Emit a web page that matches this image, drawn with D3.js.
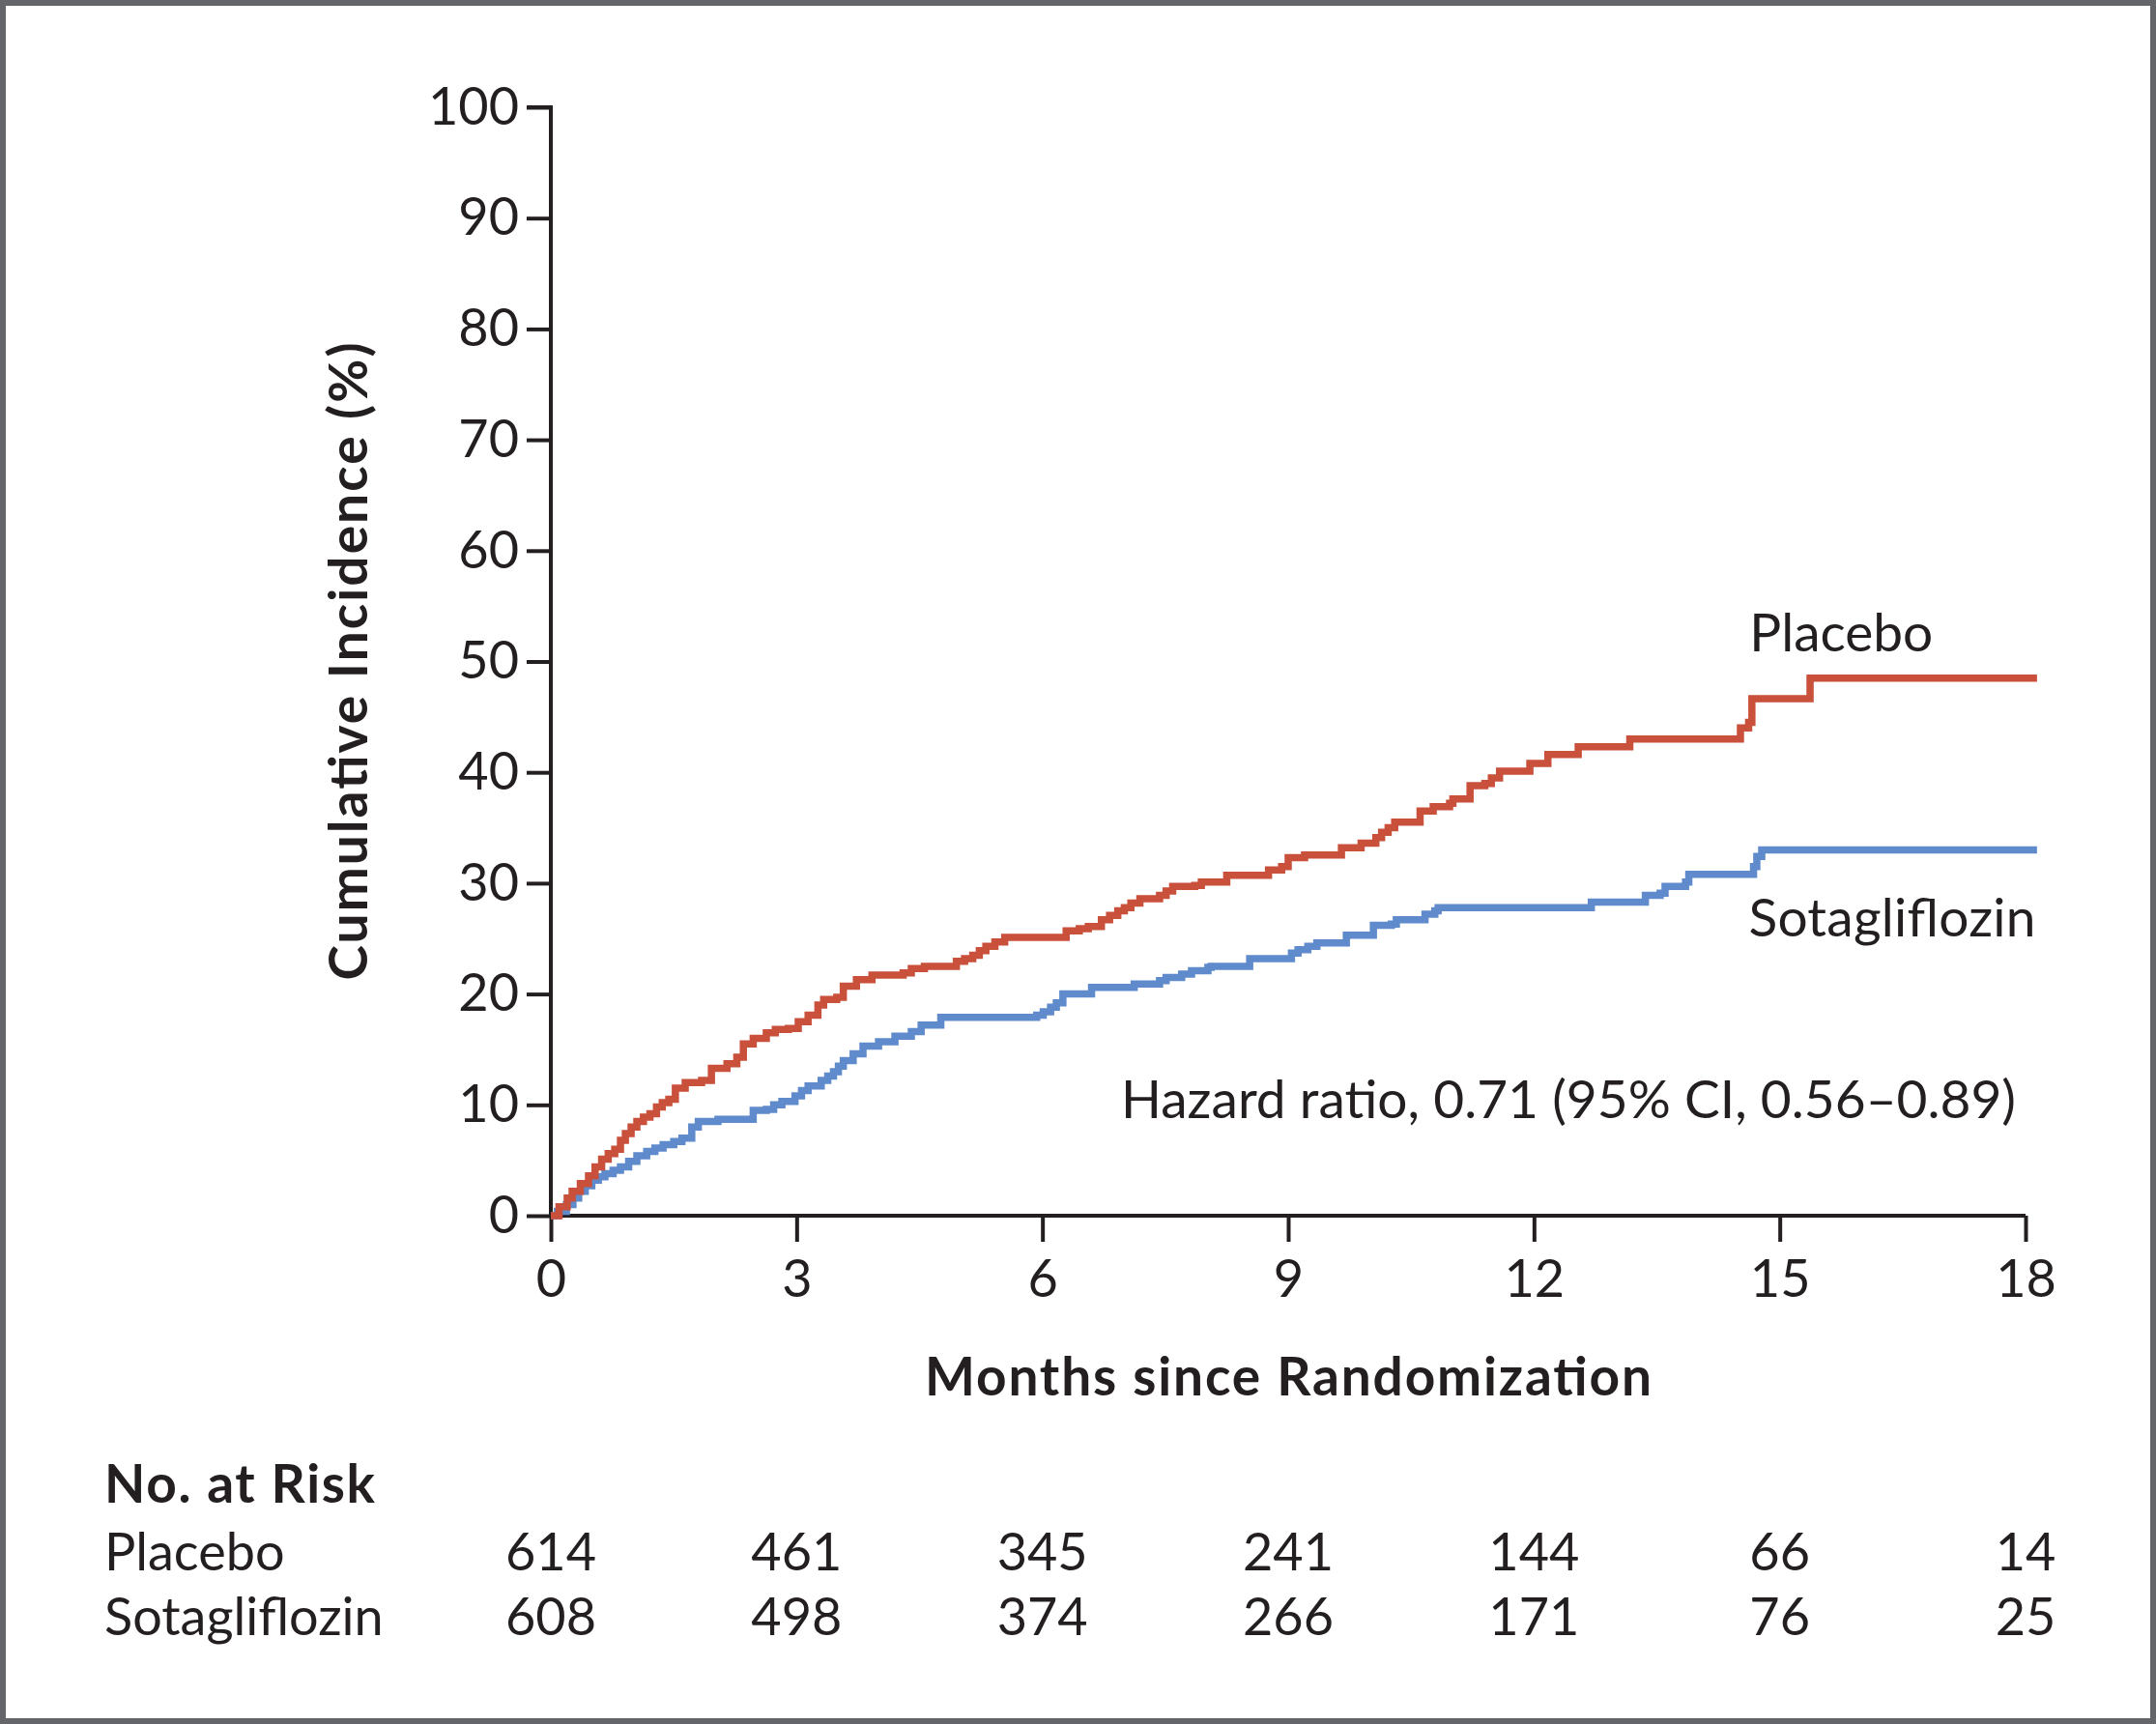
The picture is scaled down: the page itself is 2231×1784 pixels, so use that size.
<!DOCTYPE html>
<head>
  <meta charset="utf-8">
  <title>Cumulative Incidence - Sotagliflozin vs Placebo</title>
  <script src="https://cdn.jsdelivr.net/npm/d3@7"></script>
  <style>
    body { margin: 0; background: #fff; }
    text { font-family: Lato, "Open Sans", sans-serif; fill: #231f20; }
  </style>
</head>
<body>
  <div id="my_dataviz"></div>
  <script>

  // data (months, cumulative incidence %)
  var placeboMonths = [0, 0.1, 0.2, 0.26, 0.36, 0.46, 0.54, 0.62, 0.7, 0.78, 0.85, 0.91, 0.98, 1.05, 1.13, 1.21, 1.29, 1.36, 1.44, 1.52, 1.64, 1.84, 1.96, 2.15, 2.27, 2.35, 2.47, 2.63, 2.74, 2.9, 3.02, 3.14, 3.26, 3.33, 3.49, 3.57, 3.73, 3.92, 4.3, 4.4, 4.56, 4.95, 5.05, 5.15, 5.23, 5.31, 5.42, 5.54, 6.29, 6.45, 6.56, 6.72, 6.82, 6.92, 7.0, 7.08, 7.19, 7.43, 7.51, 7.59, 7.86, 7.94, 8.25, 8.76, 8.92, 9.0, 9.2, 9.65, 9.89, 10.07, 10.14, 10.22, 10.3, 10.61, 10.77, 10.97, 11.01, 11.22, 11.4, 11.48, 11.58, 11.95, 12.17, 12.54, 13.17, 14.52, 14.62, 14.66, 15.37, 18.14];
  var placeboPct = [0, 0.8, 1.6, 2.2, 2.9, 3.6, 4.4, 5.1, 5.6, 6.0, 6.8, 7.4, 8.0, 8.5, 8.9, 9.2, 9.8, 10.2, 10.5, 11.5, 12.0, 12.2, 13.3, 13.7, 14.3, 15.5, 16.0, 16.5, 16.8, 16.9, 17.5, 18.1, 19.0, 19.5, 19.7, 20.7, 21.3, 21.7, 21.9, 22.3, 22.5, 22.95, 23.2, 23.5, 23.9, 24.3, 24.7, 25.1, 25.7, 25.9, 26.1, 26.7, 27.1, 27.5, 27.8, 28.2, 28.6, 28.9, 29.3, 29.7, 29.8, 30.1, 30.7, 31.2, 31.5, 32.3, 32.55, 33.2, 33.6, 34.1, 34.6, 35.0, 35.5, 36.5, 36.9, 37.2, 37.6, 38.8, 39.0, 39.5, 40.1, 40.8, 41.6, 42.3, 43.0, 44.0, 44.5, 46.65, 48.5, 48.5];

  var sotaMonths = [0, 0.08, 0.19, 0.27, 0.34, 0.42, 0.5, 0.58, 0.66, 0.76, 0.85, 0.95, 1.05, 1.17, 1.27, 1.37, 1.5, 1.6, 1.72, 1.8, 2.04, 2.47, 2.63, 2.72, 2.82, 2.98, 3.06, 3.14, 3.3, 3.38, 3.45, 3.51, 3.57, 3.69, 3.81, 4.0, 4.2, 4.4, 4.52, 4.76, 5.93, 6.01, 6.1, 6.17, 6.25, 6.6, 7.12, 7.43, 7.51, 7.7, 7.82, 8.02, 8.06, 8.53, 9.04, 9.12, 9.24, 9.35, 9.71, 10.04, 10.26, 10.32, 10.67, 10.79, 10.83, 12.7, 13.36, 13.54, 13.6, 13.85, 13.89, 14.68, 14.72, 14.78, 18.14];
  var sotaPct = [0, 0.4, 1.0, 1.6, 2.2, 2.7, 3.2, 3.5, 3.8, 4.1, 4.4, 4.9, 5.4, 5.8, 6.1, 6.4, 6.7, 7.0, 8.0, 8.5, 8.7, 9.5, 9.6, 10.0, 10.3, 10.8, 11.3, 11.7, 12.2, 12.6, 13.0, 13.5, 14.0, 14.6, 15.3, 15.7, 16.2, 16.6, 17.2, 17.9, 18.1, 18.4, 18.8, 19.2, 20.0, 20.6, 20.9, 21.2, 21.5, 21.8, 22.1, 22.4, 22.5, 23.2, 23.7, 24.0, 24.3, 24.6, 25.3, 26.2, 26.3, 26.7, 27.2, 27.5, 27.8, 28.3, 28.9, 29.1, 29.7, 30.1, 30.8, 31.5, 32.4, 33.0, 33.0];

  var xTicks = [0, 3, 6, 9, 12, 15, 18];
  var yTicks = [0, 10, 20, 30, 40, 50, 60, 70, 80, 90, 100];
  var riskGroups = ["Placebo", "Sotagliflozin"];
  var riskPlacebo = [614, 461, 345, 241, 144, 66, 14];
  var riskSota = [608, 498, 374, 266, 171, 76, 25];

  var W = 2231, H = 1784;
  var margin = {top: 111, right: 135, bottom: 526, left: 570};
  var width = W - margin.left - margin.right;
  var height = H - margin.top - margin.bottom;

  var red = "#c9503a", blue = "#5f8acb", ink = "#231f20";

  var root = d3.select("#my_dataviz")
    .append("svg")
      .attr("width", W)
      .attr("height", H);

  // grey frame
  root.append("rect")
    .attr("x", 3).attr("y", 3)
    .attr("width", W - 6).attr("height", H - 6)
    .attr("fill", "#fff")
    .attr("stroke", "#646569")
    .attr("stroke-width", 6);

  var svg = root.append("g")
    .attr("transform", "translate(" + margin.left + "," + margin.top + ")");

  var x = d3.scaleLinear().domain([0, 18]).range([0, width]);
  var y = d3.scaleLinear().domain([0, 100]).range([height, 0]);

  // axes
  var yAxis = svg.append("g")
    .call(d3.axisLeft(y).tickValues(yTicks).tickSize(25).tickPadding(8));
  var xAxis = svg.append("g")
    .attr("transform", "translate(0," + height + ")")
    .call(d3.axisBottom(x).tickValues(xTicks).tickSize(27).tickPadding(19));

  [xAxis, yAxis].forEach(function(a) {
    a.select(".domain").attr("stroke", ink).attr("stroke-width", 4);
    a.selectAll(".tick line").attr("stroke", ink).attr("stroke-width", 4);
    a.selectAll(".tick text").style("font-size", "54px").attr("fill", ink);
  });
  yAxis.select(".domain").attr("d", "M0," + height + "V0H-25");
  xAxis.select(".domain").attr("d", "M0,0H" + width);

  // curves
  var line = d3.line()
    .x(function(d) { return x(d[0]); })
    .y(function(d) { return y(d[1]); })
    .curve(d3.curveStepAfter);

  var placebo = d3.zip(placeboMonths, placeboPct);
  var sota = d3.zip(sotaMonths, sotaPct);

  svg.append("path").datum(sota)
    .attr("fill", "none").attr("stroke", blue).attr("stroke-width", 7.5)
    .attr("d", line);
  svg.append("path").datum(placebo)
    .attr("fill", "none").attr("stroke", red).attr("stroke-width", 7.5)
    .attr("d", line);

  // labels
  svg.append("text")
    .attr("x", x(14.63)).attr("y", y(50.9))
    .style("font-size", "55px").text("Placebo");
  svg.append("text")
    .attr("x", x(14.62)).attr("y", y(25.2))
    .style("font-size", "55px")
    .attr("textLength", 297)
    .text("Sotagliflozin");
  svg.append("text")
    .attr("x", x(6.96)).attr("y", y(8.8))
    .style("font-size", "55px")
    .attr("textLength", 926)
    .text("Hazard ratio, 0.71 (95% CI, 0.56\u20130.89)");

  // axis titles
  svg.append("text")
    .attr("transform", "translate(" + (380 - margin.left) + "," + (height / 2) + ") rotate(-90)")
    .attr("text-anchor", "middle")
    .style("font-size", "55px").style("font-weight", "bold")
    .attr("textLength", 660)
    .text("Cumulative Incidence (%)");
  svg.append("text")
    .attr("x", width / 2).attr("y", height + 186)
    .attr("text-anchor", "middle")
    .style("font-size", "55px").style("font-weight", "bold")
    .attr("textLength", 752)
    .text("Months since Randomization");

  // number at risk table
  var table = svg.append("g").attr("transform", "translate(0," + (height + 297) + ")");
  table.append("text")
    .attr("x", 108 - margin.left).attr("y", 0)
    .style("font-size", "55px").style("font-weight", "bold")
    .attr("textLength", 280)
    .text("No. at Risk");

  [riskPlacebo, riskSota].forEach(function(row, i) {
    var yy = 70 + i * 67;
    table.append("text")
      .attr("x", 108 - margin.left).attr("y", yy)
      .style("font-size", "54px")
      .text(riskGroups[i]);
    table.selectAll(null)
      .data(row)
      .enter()
      .append("text")
        .attr("x", function(d, j) { return x(xTicks[j]); })
        .attr("y", yy)
        .attr("text-anchor", "middle")
        .style("font-size", "54px")
        .text(function(d) { return d; });
  });

  </script>
</body>
